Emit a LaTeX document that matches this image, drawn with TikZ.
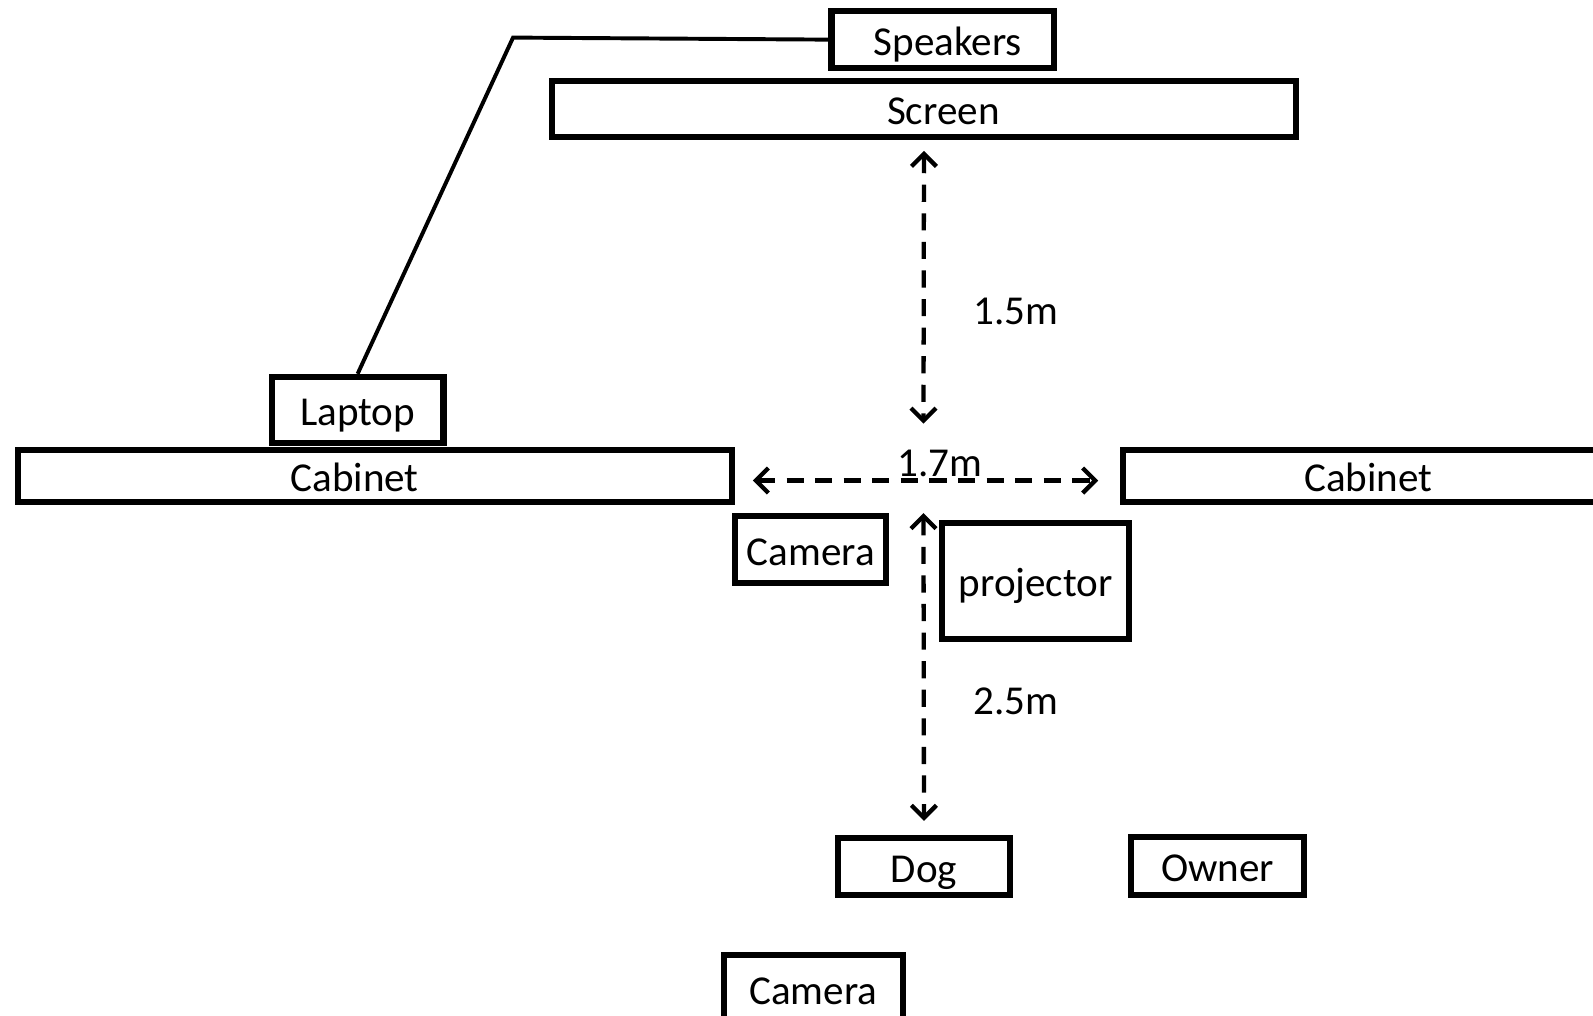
\documentclass[tikz,border=0pt]{standalone}
\usepackage{fontspec}
\setmainfont{Carlito}
\usetikzlibrary{arrows.meta}
\begin{document}
\begin{tikzpicture}[x=0.01cm, y=-0.01cm,
  box/.style={draw, line width=1.7pt, inner sep=0pt, text height=0.98em, text depth=0.1em,
    font=\fontsize{11.5}{14}\selectfont},
  dim/.style={line width=1.2pt, dash pattern=on 4.8pt off 3.2pt,
    {Straight Barb[length=3.5pt,width=7pt,line width=1.2pt]}-{Straight Barb[length=3.5pt,width=7pt,line width=1.2pt]}},
  lbl/.style={font=\fontsize{11.5}{14}\selectfont}]
  \clip (0,0) rectangle (1568,1000);
  % furniture
  \node [box, minimum width=2.19cm, minimum height=0.56cm] (speakers) at (928,39) {\hspace*{0.1cm}Speakers};
  \node [box, minimum width=7.32cm, minimum height=0.55cm] (screen) at (909.5,107.5) {\hspace*{0.38cm}Screen};
  \node [box, minimum width=1.69cm, minimum height=0.65cm] (laptop) at (352,403.5) {Laptop};
  \node [box, minimum width=7.03cm, minimum height=0.51cm] (cabL) at (369,468.5) {Cabinet\hspace*{0.4cm}};
  \node [box, minimum width=4.83cm, minimum height=0.51cm] (cabR) at (1347,468.5) {Cabinet};
  \node [box, minimum width=1.49cm, minimum height=0.66cm] (camA) at (798,541) {Camera};
  \node [box, minimum width=1.84cm, minimum height=1.14cm] (proj) at (1019.5,572) {projector};
  \node [box, minimum width=1.70cm, minimum height=0.56cm] (dog) at (909.5,853) {Dog};
  \node [box, minimum width=1.70cm, minimum height=0.57cm] (owner) at (1198.5,852.5) {Owner};
  \node [box, minimum width=1.76cm, minimum height=0.66cm] (camB) at (800.5,973) {Camera};
  % cable
  \coordinate (bend) at (505,37);
  \draw [line width=1.1pt] (laptop.north) -- (bend) -- (speakers.west);
  % distances
  \coordinate (v1) at (909,417);
  \coordinate (v2) at (909,505);
  \coordinate (h1) at (741,473);
  \coordinate (h2) at (1081,473);
  \draw [dim, shorten <=3pt] (screen.south) -- (v1);
  \draw [dim] (h1) -- (h2);
  \draw [dim, shorten >=4pt] (v2) -- (dog.north);
  \node [lbl] (d15) at (1000,307) {1.5m};
  \node [lbl] (d17) at (925,456) {1.7m};
  \node [lbl] (d25) at (1000,690) {2.5m};
\end{tikzpicture}
\end{document}
